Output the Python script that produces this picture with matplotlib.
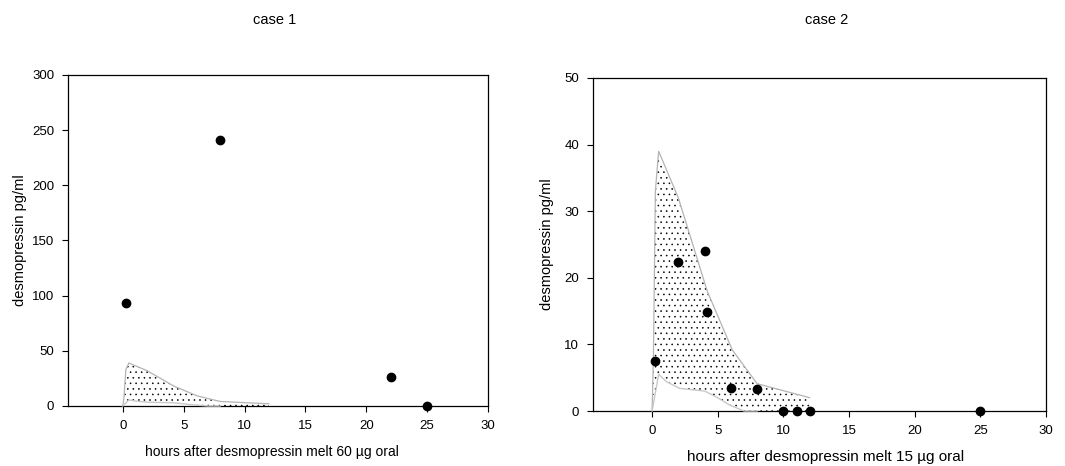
import numpy as np
import matplotlib
matplotlib.use('Agg')
import matplotlib.pyplot as plt

plt.rcParams['font.family'] = ['Liberation Sans', 'DejaVu Sans']
plt.rcParams['hatch.color'] = 'black'
plt.rcParams['hatch.linewidth'] = 0.4

# reference band (same for both cases)
band_upper_x = [0, 0.1, 0.25, 0.5, 2, 4.2, 6.1, 8, 12]
band_upper_y = [0, 8, 33, 39, 32, 18, 9.2, 4.1, 2.0]
band_lower_x = [0, 0.5, 1.1, 2.1, 4.0, 4.9, 5.9, 7.0, 8.0, 12]
band_lower_y = [0, 5.5, 4.4, 3.4, 3.0, 2.1, 0.9, 0, 0, 0]

# case 1 measurements
case1_hours = [0.25, 8, 22, 25]
case1_conc = [93, 241, 26.5, 0]

# case 2 measurements
case2_hours = [0.25, 2, 4, 4.2, 6, 8, 10, 11, 12, 25]
case2_conc = [7.5, 22.4, 24, 14.8, 3.5, 3.3, 0, 0, 0, 0]

W, H = 1065, 466
fig = plt.figure(figsize=(W/100, H/100), dpi=100)

ax1 = fig.add_axes([68/W, 1-406/H, 420/W, 331/H])
ax2 = fig.add_axes([593/W, 1-411/H, 453/W, 333/H])


def draw(ax, hours, conc, ymax, ystep):
    poly_x = list(band_upper_x) + list(band_lower_x[::-1])
    poly_y = list(band_upper_y) + list(band_lower_y[::-1])
    ax.fill(poly_x, poly_y, facecolor='white', edgecolor='black', linewidth=0,
            hatch='...', zorder=1)
    ax.plot(band_upper_x, band_upper_y, color='#b4b4b4', lw=0.9, zorder=2)
    ax.plot(band_lower_x[:-1], band_lower_y[:-1], color='#c8c8c8', lw=1.0,
            zorder=4, clip_on=False)
    ax.plot(hours, conc, 'o', color='black', markersize=6, zorder=5,
            clip_on=False)
    ax.set_xlim(-4.5, 30)
    ax.set_ylim(0, ymax)
    ax.set_xticks(np.arange(0, 31, 5))
    ax.set_yticks(np.arange(0, ymax + 1, ystep))
    ax.tick_params(direction='out', length=4, width=0.8, labelsize=9.5,
                   colors='black', pad=6)
    for s in ax.spines.values():
        s.set_linewidth(0.9)
        s.set_zorder(3)


draw(ax1, case1_hours, case1_conc, 300, 50)
draw(ax2, case2_hours, case2_conc, 50, 10)

fig.text(275/W, 1-20/H, 'case 1', ha='center', va='center', fontsize=10.5)
fig.text(827/W, 1-20/H, 'case 2', ha='center', va='center', fontsize=10.5)

fig.text(20/W, 1-240/H, 'desmopressin pg/ml', rotation=90, ha='center',
         va='center', fontsize=10.5)
fig.text(547/W, 1-244/H, 'desmopressin pg/ml', rotation=90, ha='center',
         va='center', fontsize=10.5)

fig.text(272/W, 1-452/H, 'hours after desmopressin melt 60 µg oral',
         ha='center', va='center', fontsize=10)
fig.text(826/W, 1-457/H, 'hours after desmopressin melt 15 µg oral',
         ha='center', va='center', fontsize=11)

fig.savefig('out.png', dpi=100)
